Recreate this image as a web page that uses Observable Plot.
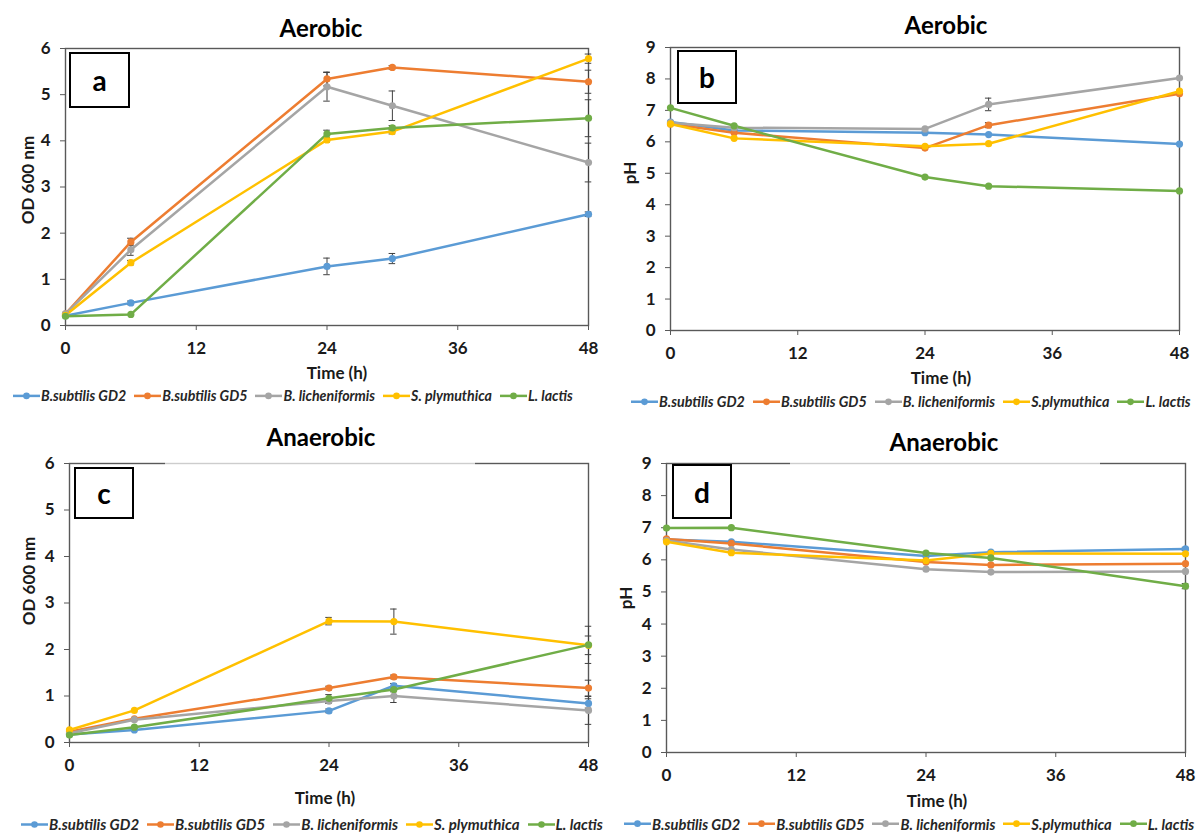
<!DOCTYPE html>
<html><head><meta charset="utf-8">
<script src="https://cdn.jsdelivr.net/npm/d3@7"></script>
<script src="https://cdn.jsdelivr.net/npm/@observablehq/plot@0.6"></script>
<style>
body{margin:0;background:#fff;font-family:Lato,"Open Sans",sans-serif;}
#root{position:relative;width:1200px;height:834px;overflow:hidden;background:#fff}
.panel{position:absolute}
.title{position:absolute;font-weight:bold;font-size:24px;transform:translate(-50%,-50%);white-space:nowrap;color:#000}
.axlab{position:absolute;font-weight:bold;font-size:17px;white-space:nowrap;color:#1a1a1a;line-height:1}
.letter{position:absolute;border:2px solid #000;background:#fff;font-weight:bold;font-size:28px;display:flex;align-items:center;justify-content:center;box-sizing:border-box;color:#000}
.legend{position:absolute;display:flex;align-items:center;gap:8px;white-space:nowrap;font-style:italic;font-weight:bold;color:#262626;transform:translateY(-50%);line-height:1}
.item{display:flex;align-items:center;gap:1px}
.veil{position:absolute;height:3px;background:rgba(255,255,255,0.7)}
</style>
</head><body><div id="root"></div>
<script>
// ---- data ----
const times = [0, 6, 24, 30, 48];
const strains = ["B.subtilis GD2", "B.subtilis GD5", "B. licheniformis", "S. plymuthica", "L. lactis"];
const legendNamesA = ["B.subtilis GD2", "B.subtilis GD5", "B. licheniformis", "S. plymuthica", "L. lactis"];
const legendNamesB = ["B.subtilis GD2", "B.subtilis GD5", "B. licheniformis", "S.plymuthica", "L. lactis"];
const colors = ["#5B9BD5", "#ED7D31", "#A5A5A5", "#FFC000", "#70AD47"];
const xTicks = [0, 12, 24, 36, 48];
const odTicks = [0, 1, 2, 3, 4, 5, 6];
const phTicks = [0, 1, 2, 3, 4, 5, 6, 7, 8, 9];

// (a) OD600 aerobic, rows = strains, columns = times
const odAerobic = [
  [0.21, 0.49, 1.28, 1.45, 2.41],
  [0.25, 1.81, 5.34, 5.59, 5.28],
  [0.25, 1.64, 5.17, 4.76, 3.53],
  [0.22, 1.36, 4.02, 4.20, 5.78],
  [0.20, 0.24, 4.15, 4.28, 4.49]
];
const odAerobicSD = [
  [0, 0.04, 0.18, 0.11, 0.05],
  [0, 0.08, 0.15, 0.04, 0.25],
  [0, 0.12, 0.31, 0.32, 0.42],
  [0, 0.05, 0.05, 0.05, 0.10],
  [0, 0.00, 0.08, 0.05, 0.40]
];
// (b) pH aerobic
const phAerobic = [
  [6.63, 6.36, 6.29, 6.23, 5.93],
  [6.57, 6.29, 5.80, 6.53, 7.53],
  [6.61, 6.45, 6.41, 7.19, 8.03],
  [6.57, 6.11, 5.86, 5.94, 7.61],
  [7.08, 6.51, 4.88, 4.59, 4.44]
];
const phAerobicSD = [
  [0, 0, 0, 0, 0],
  [0, 0, 0, 0.08, 0],
  [0, 0, 0, 0.20, 0],
  [0, 0, 0, 0, 0],
  [0, 0, 0, 0, 0]
];
// (c) OD600 anaerobic
const odAnaerobic = [
  [0.17, 0.27, 0.68, 1.22, 0.84],
  [0.23, 0.51, 1.17, 1.41, 1.17],
  [0.20, 0.49, 0.89, 1.00, 0.69],
  [0.27, 0.69, 2.61, 2.60, 2.09],
  [0.16, 0.33, 0.95, 1.14, 2.10]
];
const odAnaerobicSD = [
  [0, 0, 0.04, 0.05, 0.10],
  [0, 0, 0.04, 0.04, 0.17],
  [0, 0, 0.05, 0.14, 0.30],
  [0, 0, 0.08, 0.27, 0.20],
  [0, 0, 0.08, 0.05, 0.40]
];
// (d) pH anaerobic
const phAnaerobic = [
  [6.63, 6.56, 6.12, 6.24, 6.34],
  [6.65, 6.51, 5.93, 5.84, 5.88],
  [6.60, 6.32, 5.71, 5.62, 5.64],
  [6.56, 6.22, 5.98, 6.20, 6.19],
  [6.99, 7.00, 6.21, 6.06, 5.18]
];
const phAnaerobicSD = [
  [0, 0, 0, 0, 0.05],
  [0, 0, 0, 0, 0],
  [0, 0, 0, 0, 0],
  [0, 0, 0, 0, 0],
  [0, 0, 0, 0, 0.08]
];

// ---- build ----
const root = document.getElementById("root");

function tidy(values, sd) {
  const rows = [];
  values.forEach((arr, i) => arr.forEach((v, j) => rows.push({s: strains[i], t: times[j], v, sd: sd[i][j]})));
  return rows;
}

function addDiv(cls, text, styles) {
  const el = document.createElement("div");
  el.className = cls;
  if (text != null) el.textContent = text;
  Object.assign(el.style, styles);
  root.appendChild(el);
  return el;
}

function makePanel(cfg) {
  const data = tidy(cfg.values, cfg.sd);
  const err = data.filter(d => d.sd > 0);
  const chart = Plot.plot({
    width: cfg.width, height: cfg.height,
    marginLeft: cfg.ml, marginRight: cfg.mr, marginTop: cfg.mt, marginBottom: cfg.mb,
    x: {domain: [0, 48]},
    y: {domain: cfg.yDomain},
    color: {domain: strains, range: colors},
    style: {fontFamily: "Lato, 'Open Sans', sans-serif", fontSize: "17px", fontWeight: "bold", color: "#1a1a1a", background: "transparent", overflow: "visible"},
    marks: [
      Plot.axisX({ticks: xTicks, tickSize: 5, tickPadding: 11, tickFormat: d => d, label: null, stroke: "#595959"}),
      Plot.axisY({ticks: cfg.yTicks, tickSize: 5, tickPadding: 10, tickFormat: d => d, label: null, stroke: "#595959"}),
      Plot.frame({stroke: "#595959", strokeWidth: 1.4}),
      Plot.ruleX(err, {x: "t", y1: d => d.v - d.sd, y2: d => d.v + d.sd, stroke: "#404040", strokeWidth: 1}),
      Plot.ruleY(err, {y: d => d.v - d.sd, x1: d => d.t - 0.3, x2: d => d.t + 0.3, stroke: "#404040", strokeWidth: 1}),
      Plot.ruleY(err, {y: d => d.v + d.sd, x1: d => d.t - 0.3, x2: d => d.t + 0.3, stroke: "#404040", strokeWidth: 1}),
      Plot.line(data, {x: "t", y: "v", z: "s", stroke: "s", strokeWidth: 2.5}),
      Plot.dot(data, {x: "t", y: "v", fill: "s", r: 3.6})
    ]
  });
  chart.classList.add("panel");
  chart.style.left = cfg.left + "px";
  chart.style.top = cfg.top + "px";
  chart.querySelectorAll("g[aria-label$='tick label']").forEach(g => {
    g.setAttribute("font-size", "17");
    g.style.fontSize = "17px";
    g.querySelectorAll("text").forEach(t => { t.style.fontSize = "17px"; t.style.fontWeight = "bold"; });
  });
  root.appendChild(chart);

  addDiv("title", cfg.title, {left: cfg.titleX + "px", top: cfg.titleY + "px"});
  addDiv("axlab", "Time (h)", {left: cfg.xLab[0] + "px", top: cfg.xLab[1] + "px", transform: "translate(-50%,-50%)"});
  addDiv("axlab", cfg.yLabel, {left: cfg.yLab[0] + "px", top: cfg.yLab[1] + "px", transform: "translate(-50%,-50%) rotate(-90deg)"});
  addDiv("letter", cfg.letter, {left: cfg.box[0] + "px", top: cfg.box[1] + "px", width: cfg.box[2] + "px", height: cfg.box[3] + "px"});

  const leg = addDiv("legend", null, {left: cfg.legX + "px", top: cfg.legY + "px", fontSize: cfg.legFont + "px"});
  cfg.legendNames.forEach((name, i) => {
    const item = document.createElement("div");
    item.className = "item";
    item.innerHTML = `<svg width="27" height="10"><line x1="0" x2="27" y1="5" y2="5" stroke="${colors[i]}" stroke-width="2.5"/><circle cx="13.5" cy="5" r="3.3" fill="${colors[i]}"/></svg><span>${name}</span>`;
    leg.appendChild(item);
  });
}

makePanel({values: odAerobic, sd: odAerobicSD, yDomain: [0, 6], yTicks: odTicks, yLabel: "OD 600 nm",
  left: 0, top: 0, width: 600, height: 385, ml: 65, mr: 12, mt: 48, mb: 60,
  xLab: [337, 372], yLab: [27, 180],
  title: "Aerobic", titleX: 321, titleY: 27, letter: "a", box: [69, 52, 61, 56],
  legendNames: legendNamesA, legX: 13, legY: 396, legFont: 14.2});

makePanel({values: phAerobic, sd: phAerobicSD, yDomain: [0, 9], yTicks: phTicks, yLabel: "pH",
  left: 600, top: 0, width: 600, height: 390, ml: 70, mr: 21, mt: 47, mb: 60,
  xLab: [941, 377], yLab: [629, 173],
  title: "Aerobic", titleX: 946, titleY: 24, letter: "b", box: [677, 50, 60, 54],
  legendNames: legendNamesB, legX: 631, legY: 402, legFont: 14.3});

makePanel({values: odAnaerobic, sd: odAnaerobicSD, yDomain: [0, 6], yTicks: odTicks, yLabel: "OD 600 nm",
  left: 0, top: 420, width: 600, height: 400, ml: 69, mr: 12, mt: 43, mb: 78,
  xLab: [325, 797], yLab: [28, 581],
  title: "Anaerobic", titleX: 321, titleY: 436, letter: "c", box: [74, 467, 60, 52],
  legendNames: legendNamesA, legX: 21, legY: 824, legFont: 15});

makePanel({values: phAnaerobic, sd: phAnaerobicSD, yDomain: [0, 9], yTicks: phTicks, yLabel: "pH",
  left: 600, top: 420, width: 600, height: 400, ml: 66, mr: 15, mt: 43, mb: 68,
  xLab: [937, 800], yLab: [625, 598],
  title: "Anaerobic", titleX: 944, titleY: 441, letter: "d", box: [672, 464, 60, 55],
  legendNames: legendNamesB, legX: 624, legY: 824, legFont: 14.7});

// lighter middle of the top frame edge under the anaerobic titles
[[165, 462, 310], [790, 462, 310]].forEach(([x, y, w]) => {
  addDiv("veil", null, {left: x + "px", top: y + "px", width: w + "px"});
});
</script></body></html>
